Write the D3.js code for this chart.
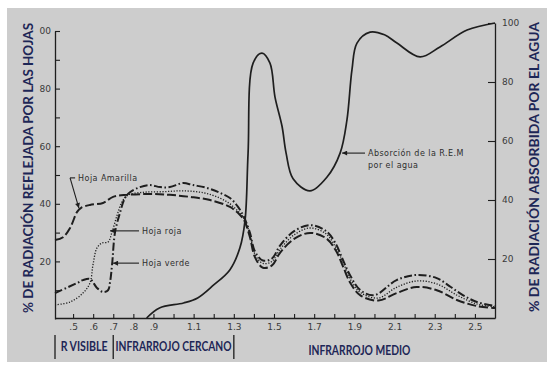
<!DOCTYPE html>
<html><head><meta charset="utf-8">
<script src="https://cdn.jsdelivr.net/npm/d3@7"></script>
<style>html,body{margin:0;padding:0;background:#fff;} svg{display:block}</style>
</head><body>
<svg id="chart" width="547" height="367"></svg>
<script>
// Wavelength (µm) ticks along the bottom axis
const xTicks = [0.5,0.6,0.7,0.8,0.9,1.0,1.1,1.2,1.3,1.4,1.5,1.6,1.7,1.8,1.9,2.0,2.1,2.2,2.3,2.4,2.5];
const xLabelTicks = [0.5,0.6,0.7,0.8,0.9,1.1,1.3,1.5,1.7,1.9,2.1,2.3,2.5];
const xLabelText  = [".5",".6",".7",".8",".9","1.1","1.3","1.5","1.7","1.9","2.1","2.3","2.5"];

// Reflectance axis (left) and absorption axis (right)
const leftTicks = [10,20,30,40,50,60,70,80,90,100];
const leftLabelTicks = [20,40,60,80,100];
const leftLabelText  = ["20","40","60","80","00"];
const rightTicks = [20,40,60,80,100];
const rightLabelText = ["20","40","60","80","100"];

// Leaf reflectance curves: [wavelength µm, % reflected]
const yellowLeaf = [
  [0.41,27.4],[0.45,28.4],[0.485,31.6],[0.52,37.2],[0.54,38.6],[0.584,39.6],[0.649,40.3],[0.699,42.4],
  [0.768,43.1],[0.883,43.4],[0.982,43.1],[1.082,42.4],[1.182,41.3],[1.281,38.9],[1.331,36.1],
  [1.35,34.5],[1.38,28.5],[1.405,21.5],[1.445,17.8],[1.49,18.6],[1.53,23],[1.6,27.8],[1.68,29.9],
  [1.76,28],[1.81,23.5],[1.845,18],[1.88,12.5],[1.93,8.2],[2.02,6.4],[2.11,9],[2.21,11.1],
  [2.31,10],[2.41,6.6],[2.51,4.5],[2.6,3.8]
];
const redLeaf = [
  [0.41,4.9],[0.485,5.9],[0.549,9],[0.584,12.5],[0.599,18.8],[0.619,24.7],[0.644,26.4],[0.674,26.7],
  [0.694,30.2],[0.719,36],[0.743,40.6],[0.773,43],[0.85,44],[0.95,44.2],[1.05,44.5],[1.15,43.8],
  [1.23,42],[1.28,40],[1.32,37.5],[1.35,35],[1.38,29.5],[1.405,22.5],[1.445,19.3],[1.49,20],
  [1.53,24.2],[1.6,29.2],[1.68,31.6],[1.76,29.5],[1.81,24.5],[1.845,19.5],[1.88,13.8],[1.93,9.2],
  [2.02,7.3],[2.11,11],[2.21,13.2],[2.31,12.2],[2.41,8.3],[2.51,5.2],[2.6,4.2]
];
const greenLeaf = [
  [0.41,9],[0.52,12.5],[0.549,13.5],[0.584,13.9],[0.619,10.8],[0.649,9.4],[0.674,10],[0.684,12.8],
  [0.694,18.8],[0.709,30.2],[0.734,37],[0.758,42],[0.783,44],[0.833,45.8],[0.883,46.5],[0.933,45.8],
  [0.982,45.8],[1.047,47.2],[1.097,46.5],[1.167,45.5],[1.231,43.8],[1.281,42],[1.321,38.9],
  [1.35,35.5],[1.38,30],[1.405,23.5],[1.445,20.3],[1.49,21],[1.53,25.5],[1.6,30.5],[1.68,32.6],
  [1.76,30.5],[1.81,25.8],[1.84,21],[1.88,15],[1.93,10],[2.0,8.3],[2.11,13.5],[2.21,15.3],
  [2.31,14.2],[2.38,11.1],[2.44,8.3],[2.51,5.9],[2.6,4.5]
];

// Absorption of electromagnetic radiation by water: [wavelength µm, % absorbed]
const waterAbsorption = [
  [0.866,0],[0.93,3.4],[1.05,5.1],[1.12,6.8],[1.2,11.2],[1.28,16.3],[1.33,23.7],[1.356,33.2],
  [1.371,55.9],[1.396,86.4],[1.44,89.8],[1.48,86.4],[1.505,74.9],[1.54,65],[1.56,56],
  [1.595,47.2],[1.679,43.1],[1.764,47.8],[1.829,55.9],[1.863,67.1],[1.888,84.1],[1.913,93.2],
  [1.978,96.9],[2.05,96],[2.112,93.2],[2.227,88.5],[2.326,91.9],[2.461,97.6],[2.6,100]
];

// Spectral regions named under the axis
const regionNames = ["R VISIBLE","INFRARROJO CERCANO","INFRARROJO MEDIO"];
const regionFrom  = [0.41, 0.7, 1.3];
const regionTo    = [0.7, 1.3, 2.55];
const regionBars  = [0.41, 0.7, 1.3];

// Callouts: arrow tip, elbow/tail and label anchor in data units
const callouts = [
  {text:["Hoja Amarilla"], axis:"L", tip:[0.529,38.5], tail:[0.485,49], hook:[0.51,49], label:[0.525,49]},
  {text:["Hoja roja"], axis:"L", tip:[0.684,30.6], tail:[0.828,30.6], label:[0.843,30.6]},
  {text:["Hoja verde"], axis:"L", tip:[0.699,19.4], tail:[0.828,19.4], label:[0.843,19.4]},
  {text:["Absorción de la R.E.M","por el agua"], axis:"R", tip:[1.839,55.9], tail:[1.953,55.9], label:[1.968,55.9]}
];

const svg = d3.select("#chart");
const W = 547, H = 367;

const x  = d3.scaleLinear().domain([0.41, 2.6]).range([55, 495]);
const yL = d3.scaleLinear().domain([0, 100]).range([319, 31]);
const yR = d3.scaleLinear().domain([0, 100]).range([318, 23]);

const ink = "#1e1e1e";
const tickFont = "'DejaVu Sans', sans-serif";
const titleColor = "#1d2656";

// grey panel
svg.append("rect").attr("x", 7).attr("y", 8).attr("width", W - 7).attr("height", 354)
  .attr("fill", "#cdcdcd");

// axes
function styleAxis(g) {
  g.attr("font-family", null).attr("font-size", null);
  g.selectAll("path.domain").attr("stroke", ink).attr("stroke-width", 1.3);
  g.selectAll(".tick line").attr("stroke", ink).attr("stroke-width", 1.1);
  g.selectAll(".tick text").attr("fill", "#3a3a3a")
    .style("font-family", tickFont).style("font-size", "9px");
}

const xAxis = d3.axisBottom(x).tickValues(xTicks).tickSizeInner(-4).tickSizeOuter(0).tickPadding(6)
  .tickFormat(d => { const i = xLabelTicks.findIndex(v => Math.abs(v - d) < 1e-6); return i >= 0 ? xLabelText[i] : ""; });
svg.append("g").attr("transform", `translate(0,${yR(0)})`).call(xAxis).call(styleAxis);

const leftAxis = d3.axisLeft(yL).tickValues(leftTicks).tickSizeInner(-5).tickSizeOuter(0).tickPadding(4)
  .tickFormat(d => { const i = leftLabelTicks.indexOf(d); return i >= 0 ? leftLabelText[i] : ""; });
svg.append("g").attr("transform", `translate(${x.range()[0]},0)`).call(leftAxis).call(styleAxis);

const rightAxis = d3.axisRight(yR).tickValues(rightTicks).tickSizeInner(-7).tickSizeOuter(0).tickPadding(7)
  .tickFormat((d, i) => rightLabelText[i]);
svg.append("g").attr("transform", `translate(${x.range()[1]},0)`).call(rightAxis).call(styleAxis);

// curves
const curve = d3.curveCatmullRom.alpha(0.5);
const lineL = d3.line().x(d => x(d[0])).y(d => yL(d[1])).curve(curve);
const lineR = d3.line().x(d => x(d[0])).y(d => yR(d[1])).curve(curve);

const curves = svg.append("g").attr("fill", "none").attr("stroke", ink).attr("stroke-linecap", "butt");
curves.append("path").attr("d", lineL(yellowLeaf)).attr("stroke-width", 2).attr("stroke-dasharray", "9,3");
curves.append("path").attr("d", lineL(redLeaf)).attr("stroke-width", 1.3).attr("stroke-dasharray", "1.2,1.6");
curves.append("path").attr("d", lineL(greenLeaf)).attr("stroke-width", 2).attr("stroke-dasharray", "8,2.5,1.6,2.5");
curves.append("path").attr("d", lineR(waterAbsorption)).attr("stroke-width", 1.7);

// callouts
const defs = svg.append("defs");
defs.append("marker").attr("id", "tip").attr("viewBox", "0 0 10 10").attr("refX", 10).attr("refY", 5)
  .attr("markerWidth", 6).attr("markerHeight", 5).attr("orient", "auto-start-reverse")
  .attr("markerUnits", "userSpaceOnUse")
  .append("path").attr("d", "M0,0L10,5L0,10Z").attr("fill", ink);

const callG = svg.append("g");
callouts.forEach(c => {
  const y = c.axis === "L" ? yL : yR;
  const px = p => [x(p[0]), y(p[1])];
  const [tx, ty] = px(c.tip), [sx, sy] = px(c.tail), [lx, ly] = px(c.label);
  callG.append("line").attr("x1", sx).attr("y1", sy).attr("x2", tx).attr("y2", ty)
    .attr("stroke", ink).attr("stroke-width", 1.1).attr("marker-end", "url(#tip)");
  if (c.hook) {
    const [hx, hy] = px(c.hook);
    callG.append("line").attr("x1", sx).attr("y1", sy).attr("x2", hx).attr("y2", hy)
      .attr("stroke", ink).attr("stroke-width", 1.1);
  }
  c.text.forEach((t, i) => {
    callG.append("text").attr("x", lx).attr("y", ly + i * 12.5).attr("dy", "0.35em")
      .attr("fill", "#2e2e2e").style("font-family", tickFont).style("font-size", "8px")
      .style("letter-spacing", "0.45px").text(t);
  });
});

// spectral region names and separators
const regionG = svg.append("g");
regionBars.forEach(w => {
  regionG.append("line").attr("x1", x(w)).attr("x2", x(w)).attr("y1", 335).attr("y2", 359)
    .attr("stroke", "#333").attr("stroke-width", 1.5);
});
const regionWidths = [47, 116, 102];
regionNames.forEach((name, i) => {
  const cx = (x(regionFrom[i]) + x(regionTo[i])) / 2;
  regionG.append("text").attr("x", cx).attr("y", i === 2 ? 355 : 351)
    .attr("text-anchor", "middle").attr("fill", titleColor)
    .style("font-family", "Lato, 'Open Sans', sans-serif").style("font-weight", "bold").style("font-size", "12.5px")
    .attr("textLength", regionWidths[i]).attr("lengthAdjust", "spacingAndGlyphs").text(name);
});

// axis titles
const titleStyle = t => t.attr("text-anchor", "middle").attr("fill", titleColor)
  .style("font-family", "Lato, 'Open Sans', sans-serif")
  .style("font-weight", "bold").style("font-size", "14px")
  .attr("textLength", 290).attr("lengthAdjust", "spacingAndGlyphs");
svg.append("text").attr("transform", `translate(32.5,168) rotate(-90)`).call(titleStyle)
  .text("% DE RADIACIÓN REFLEJADA POR LAS HOJAS");
svg.append("text").attr("transform", `translate(538.5,167) rotate(-90)`).call(titleStyle)
  .text("% DE RADIACIÓN ABSORBIDA POR EL AGUA");
</script>
</body></html>
